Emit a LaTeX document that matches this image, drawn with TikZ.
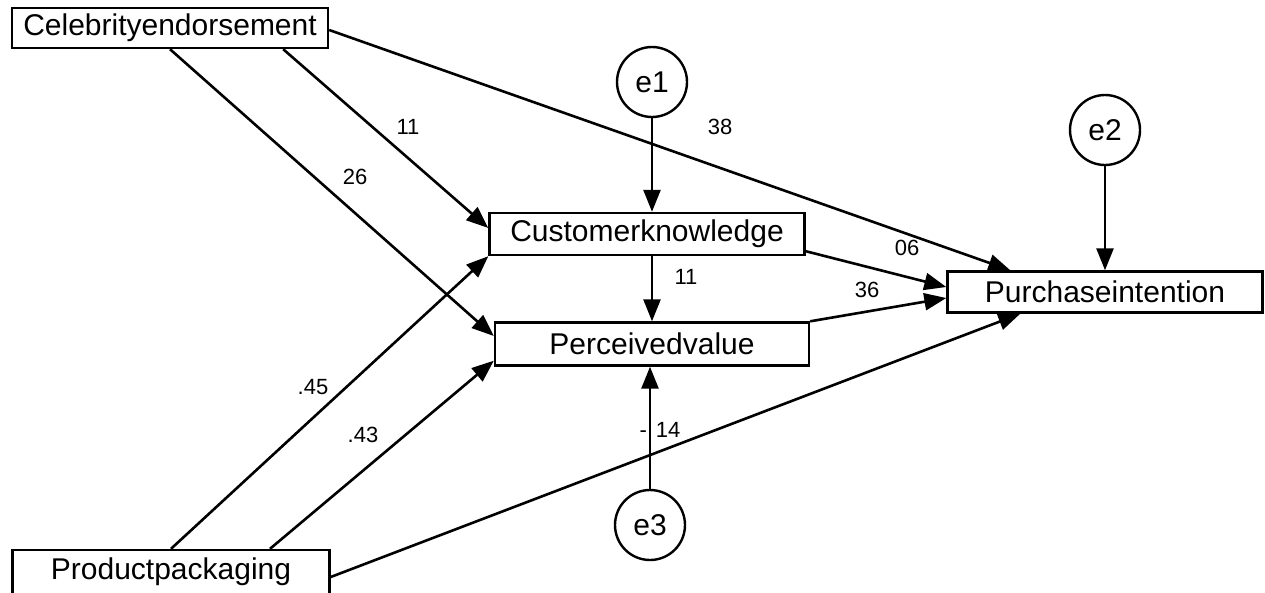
\documentclass[tikz,border=0pt]{standalone}
\usepackage{fontspec}
\setmainfont{Liberation Sans}
\usetikzlibrary{arrows.meta}
\tikzset{
  box/.style={draw,line width=2.4pt,fill=white,inner sep=0pt,font=\fontsize{30}{32}\selectfont},
  err/.style={draw,circle,line width=2.4pt,minimum size=70pt,inner sep=0pt,font=\fontsize{30}{32}\selectfont},
  path/.style={line width=2.6pt,-{Triangle[length=22pt,width=17pt]}},
  lab/.style={font=\fontsize{22}{24}\selectfont,inner sep=0pt}
}
\begin{document}
\begin{tikzpicture}[x=1pt,y=-1pt]
\clip (0,0) rectangle (1265,592);
\useasboundingbox (0,0) rectangle (1265,592);
\fill[white] (0,0) rectangle (1265,592);
\node[box,minimum width=316pt,minimum height=40pt] (ce) at (170,28) {Celebrityendorsement};
\node[box,minimum width=317pt,minimum height=44pt] (pp) at (171,572) {Productpackaging};
\node[box,minimum width=315pt,minimum height=42pt] (ck) at (647,234) {Customerknowledge};
\node[box,minimum width=314pt,minimum height=43pt] (pv) at (652,344) {Perceivedvalue};
\node[box,minimum width=315pt,minimum height=41pt] (pi) at (1105,292) {Purchaseintention};
\node[err] (e1) at (652,82) {e1};
\node[err] (e2) at (1105,130) {e2};
\node[err] (e3) at (650,525) {e3};
\draw[path] ([xshift=-46pt]ce.south east) -- ([yshift=6pt]ck.west);
\draw[path] (ce.south) -- ([yshift=8pt]pv.west);
\draw[path] ([yshift=-2pt]ce.east) -- ([xshift=64pt]pi.north west);
\draw[path] (pp.north) -- (ck.south west);
\draw[path] ([xshift=99pt]pp.north) -- ([yshift=6pt]pv.south west);
\draw[path] ([yshift=-5pt]pp.east) -- ([xshift=74pt]pi.south west);
\draw[path] ([yshift=5pt]ck.south east) -- ([yshift=5pt]pi.west);
\draw[path] (pv.north east) -- ([yshift=-6pt]pi.west);
\draw[path] (pv.north |- ck.south) -- (pv.north);
\draw[path] (e1.south) -- (e1.south |- ck.north);
\draw[path] (e2.south) -- (e2.south |- pi.north);
\draw[path] (e3.north) -- (e3.north |- pv.south);
\node[lab] (l1) at (408,127) {11};
\node[lab] (l2) at (355,177) {26};
\node[lab] (l3) at (720,127) {38};
\node[lab] (l4) at (907,248) {06};
\node[lab] (l5) at (867,290) {36};
\node[lab] (l6) at (686,277) {11};
\node[lab] (l7) at (313,387) {.45};
\node[lab] (l8) at (363,435) {.43};
\node[lab] (l9) at (660,430) {-\hspace{9pt}14};
\end{tikzpicture}
\end{document}
